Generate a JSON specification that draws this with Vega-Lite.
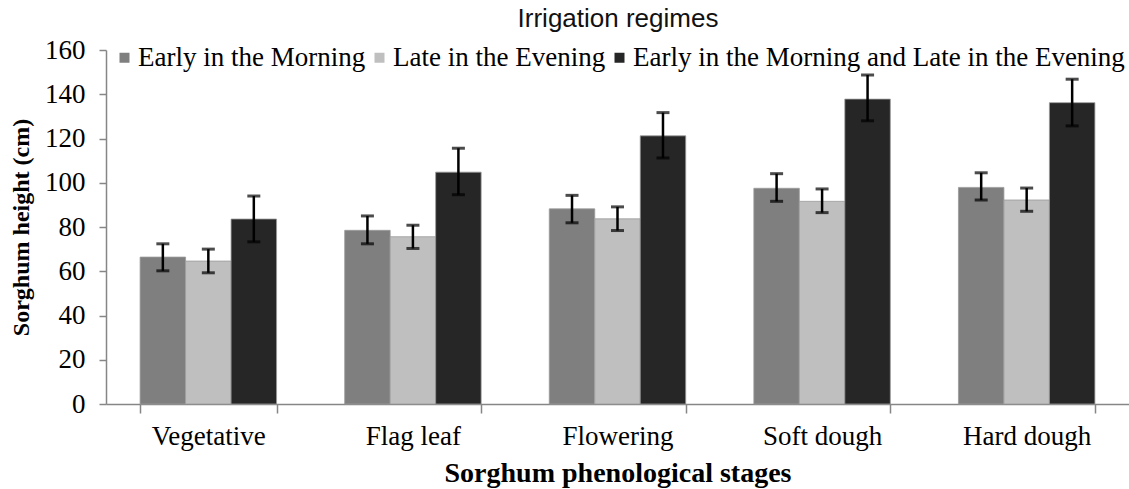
{
  "$schema": "https://vega.github.io/schema/vega-lite/v6.json",
  "width": 1023,
  "height": 354,
  "autosize": {"type": "none"},
  "padding": {"left": 106, "top": 50, "right": 0, "bottom": 85},
  "background": "white",
  "config": {"view": {"stroke": null}},
  "data": {
    "values": [
      {"stage": "Vegetative", "regime": "Early in the Morning", "height": 66.4, "lo": 60.2, "hi": 72.4},
      {"stage": "Vegetative", "regime": "Late in the Evening", "height": 64.6, "lo": 59.3, "hi": 70.0},
      {"stage": "Vegetative", "regime": "Early in the Morning and Late in the Evening", "height": 83.6, "lo": 73.3, "hi": 94.0},
      {"stage": "Flag leaf", "regime": "Early in the Morning", "height": 78.5, "lo": 72.4, "hi": 85.0},
      {"stage": "Flag leaf", "regime": "Late in the Evening", "height": 75.6, "lo": 70.3, "hi": 80.8},
      {"stage": "Flag leaf", "regime": "Early in the Morning and Late in the Evening", "height": 104.8, "lo": 94.6, "hi": 115.6},
      {"stage": "Flowering", "regime": "Early in the Morning", "height": 88.2, "lo": 81.9, "hi": 94.3},
      {"stage": "Flowering", "regime": "Late in the Evening", "height": 83.7, "lo": 78.4, "hi": 89.1},
      {"stage": "Flowering", "regime": "Early in the Morning and Late in the Evening", "height": 121.2, "lo": 111.2, "hi": 131.7},
      {"stage": "Soft dough", "regime": "Early in the Morning", "height": 97.5, "lo": 91.6, "hi": 104.1},
      {"stage": "Soft dough", "regime": "Late in the Evening", "height": 91.6, "lo": 86.5, "hi": 97.2},
      {"stage": "Soft dough", "regime": "Early in the Morning and Late in the Evening", "height": 137.8, "lo": 128.0, "hi": 148.7},
      {"stage": "Hard dough", "regime": "Early in the Morning", "height": 97.9, "lo": 92.2, "hi": 104.5},
      {"stage": "Hard dough", "regime": "Late in the Evening", "height": 92.2, "lo": 87.1, "hi": 97.6},
      {"stage": "Hard dough", "regime": "Early in the Morning and Late in the Evening", "height": 136.2, "lo": 125.7, "hi": 146.8}
    ]
  },
  "encoding": {
    "x": {
      "field": "stage", "type": "nominal",
      "sort": ["Vegetative", "Flag leaf", "Flowering", "Soft dough", "Hard dough"],
      "scale": {"paddingInner": 0.333, "paddingOuter": 0.1667},
      "axis": {
        "title": "Sorghum  phenological stages",
        "titleFont": "Liberation Serif", "titleFontSize": 28, "titleFontWeight": "bold", "titleColor": "black",
        "titlePadding": 10,
        "labelFont": "Liberation Serif", "labelFontSize": 27, "labelColor": "black", "labelAngle": 0,
        "labelPadding": 10,
        "tickBand": "extent", "tickSize": 9, "tickColor": "#868686", "domainColor": "#868686",
        "domainWidth": 1.5, "tickWidth": 1.5
      }
    },
    "xOffset": {
      "field": "regime", "type": "nominal",
      "sort": ["Early in the Morning", "Late in the Evening", "Early in the Morning and Late in the Evening"],
      "scale": {"paddingInner": 0, "paddingOuter": 0}
    }
  },
  "layer": [
    {
      "mark": {"type": "bar", "stroke": "#9a9a9a", "strokeWidth": 0.8},
      "encoding": {
        "y": {
          "field": "height", "type": "quantitative",
          "scale": {"domain": [0, 160], "nice": false},
          "axis": {
            "values": [0, 20, 40, 60, 80, 100, 120, 140, 160],
            "grid": false,
            "title": "Sorghum height (cm)",
            "titleFont": "Liberation Serif", "titleFontSize": 24, "titleFontWeight": "bold", "titleColor": "black",
            "titlePadding": 11,
            "labelFont": "Liberation Serif", "labelFontSize": 27, "labelColor": "black",
            "labelPadding": 14,
            "tickSize": 7, "tickColor": "#868686", "domainColor": "#868686",
            "domainWidth": 1.5, "tickWidth": 1.5
          }
        },
        "color": {
          "field": "regime", "type": "nominal",
          "sort": ["Early in the Morning", "Late in the Evening", "Early in the Morning and Late in the Evening"],
          "scale": {
            "domain": ["Early in the Morning", "Late in the Evening", "Early in the Morning and Late in the Evening"],
            "range": ["#7f7f7f", "#bfbfbf", "#262626"]
          },
          "legend": {
            "title": "Irrigation regimes",
            "orient": "none",
            "legendX": 5,
            "legendY": -44,
            "direction": "horizontal",
            "titleAnchor": "middle",
            "titleFont": "Liberation Sans", "titleFontSize": 26, "titleFontWeight": "normal", "titleColor": "#111111",
            "titlePadding": 12,
            "titleLimit": 0,
            "labelFont": "Liberation Serif", "labelFontSize": 27, "labelColor": "black",
            "labelLimit": 0,
            "labelOffset": 0,
            "symbolType": "square", "symbolSize": 100, "symbolStrokeWidth": 0,
            "columnPadding": 0
          }
        }
      }
    },
    {
      "mark": {"type": "rule", "color": "black", "strokeWidth": 2.5},
      "encoding": {
        "y": {"field": "lo", "type": "quantitative"},
        "y2": {"field": "hi"}
      }
    },
    {
      "mark": {"type": "tick", "color": "black", "thickness": 3, "size": 13},
      "encoding": {
        "y": {"field": "lo", "type": "quantitative"}
      }
    },
    {
      "mark": {"type": "tick", "color": "black", "thickness": 3, "size": 13},
      "encoding": {
        "y": {"field": "hi", "type": "quantitative"}
      }
    }
  ]
}
